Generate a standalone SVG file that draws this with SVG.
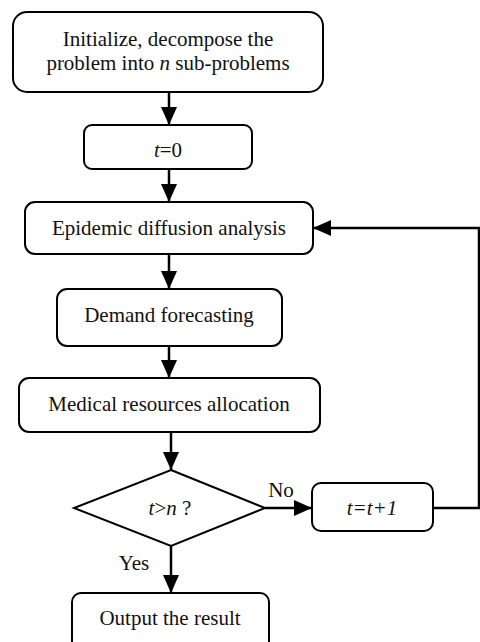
<svg xmlns="http://www.w3.org/2000/svg" width="480" height="642" viewBox="0 0 480 642">
  <style>
    .box { fill: #fff; stroke: #000; stroke-width: 2; }
    .conn { fill: none; stroke: #000; stroke-width: 2.5; }
    text { font-family: "Liberation Serif", "Times New Roman", serif; font-size: 21px; fill: #111; text-anchor: middle; }
    .it { font-style: italic; }
  </style>
  <defs>
    <marker id="arr" markerUnits="userSpaceOnUse" markerWidth="18" markerHeight="16" refX="18" refY="8" orient="auto">
      <path d="M0,0 L18,8 L0,16 Z" fill="#000"/>
    </marker>
  </defs>
  <rect width="480" height="642" fill="#fff"/>

  <g id="connectors">
    <line class="conn" x1="169" y1="92" x2="169" y2="125" marker-end="url(#arr)"/>
    <line class="conn" x1="169" y1="169" x2="169" y2="202" marker-end="url(#arr)"/>
    <line class="conn" x1="169" y1="254" x2="169" y2="289" marker-end="url(#arr)"/>
    <line class="conn" x1="169" y1="346" x2="169" y2="378" marker-end="url(#arr)"/>
    <line class="conn" x1="171" y1="432" x2="171" y2="470" marker-end="url(#arr)"/>
    <line class="conn" x1="265" y1="508" x2="312" y2="508" marker-end="url(#arr)"/>
    <line class="conn" x1="171" y1="546" x2="171" y2="593" marker-end="url(#arr)"/>
    <polyline class="conn" points="433,508 479,508 479,228 313,228" marker-end="url(#arr)"/>
    <text x="281" y="497">No</text>
    <text x="134" y="570">Yes</text>
  </g>

  <g id="init">
    <rect class="box" x="13" y="12" width="310" height="80" rx="14"/>
    <text x="168" y="46">Initialize, decompose the</text>
    <text x="168" y="70">problem into <tspan class="it">n</tspan> sub-problems</text>
  </g>

  <g id="t0">
    <rect class="box" x="84" y="125" width="168" height="44" rx="8"/>
    <text x="168" y="157"><tspan class="it">t</tspan>=0</text>
  </g>

  <g id="epidemic">
    <rect class="box" x="25" y="202" width="288" height="52" rx="10"/>
    <text x="169" y="235">Epidemic diffusion analysis</text>
  </g>

  <g id="demand">
    <rect class="box" x="57" y="289" width="225" height="57" rx="10"/>
    <text x="169" y="322">Demand forecasting</text>
  </g>

  <g id="medical">
    <rect class="box" x="19" y="378" width="301" height="54" rx="10"/>
    <text x="169" y="411">Medical resources allocation</text>
  </g>

  <g id="decision">
    <polygon class="box" points="171,470 265,508 171,546 74,508"/>
    <text x="170" y="515"><tspan class="it">t</tspan>&gt;<tspan class="it">n</tspan> ?</text>
  </g>

  <g id="increment">
    <rect class="box" x="312" y="483" width="121" height="48" rx="9"/>
    <text x="372" y="515" class="it">t=t+1</text>
  </g>

  <g id="output">
    <rect class="box" x="72" y="593" width="197" height="60" rx="9"/>
    <text x="170" y="625">Output the result</text>
  </g>
</svg>
